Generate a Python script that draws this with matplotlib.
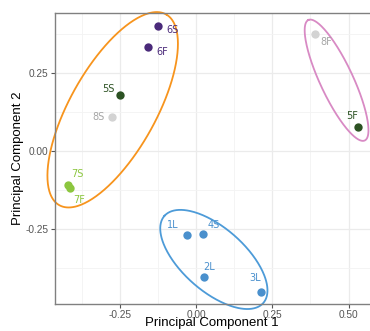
import numpy as np
import matplotlib
matplotlib.use("Agg")
import matplotlib.pyplot as plt

# sample scores on the first two principal components
samples = ["6S", "6F", "5S", "8S", "8F", "5F", "7S", "7F", "1L", "4S", "2L", "3L"]
pc1 = [-0.1235, -0.157, -0.249, -0.276, 0.389, 0.532, -0.418, -0.414, -0.028, 0.022, 0.026, 0.214]
pc2 = [0.399, 0.331, 0.179, 0.108, 0.375, 0.077, -0.109, -0.118, -0.268, -0.265, -0.403, -0.449]
cluster = ["A", "A", "A", "A", "B", "B", "A", "A", "C", "C", "C", "C"]

point_colors = {"6": "#4a2a7a", "5": "#2c5223", "8": "#d3d3d3", "7": "#8cc63f",
                "1": "#4a90cd", "2": "#4a90cd", "3": "#4a90cd", "4": "#4a90cd"}
label_colors = dict(point_colors, **{"8": "#a5a5a5"})
ellipse_colors = {"A": "#f7941d", "B": "#d88ac4", "C": "#4d9bd8"}
# (padding past the farthest point along the long axis, half width) in pixels
ellipse_pad = {"A": (14, 43), "B": (15, 16.5), "C": (9, 31.5)}

# label offsets (pixels) like ggrepel placed them
label_offsets = {"6S": (14, -4), "6F": (14, -5), "5S": (-12, 6), "8S": (-13, 0),
                 "8F": (12, -8), "5F": (-6, 11), "7S": (9, 11), "7F": (10, -12),
                 "1L": (-15, 10), "4S": (11, 9), "2L": (5, 10), "3L": (-6, 14)}

fig = plt.figure(figsize=(3.7, 3.31), dpi=100)
ax = fig.add_axes([54.5 / 370, 27 / 331, 315.5 / 370, 290.7 / 331])
ax.set_xlim(-0.4635, 0.570)
ax.set_ylim(-0.4885, 0.4397)

ax.set_xticks([-0.25, 0, 0.25, 0.5])
ax.set_xticklabels(["-0.25", "0.00", "0.25", "0.50"])
ax.set_yticks([-0.25, 0, 0.25])
ax.set_yticklabels(["-0.25", "0.00", "0.25"])
ax.set_xticks([-0.375, -0.125, 0.125, 0.375], minor=True)
ax.set_yticks([-0.375, -0.125, 0.125, 0.375], minor=True)
ax.grid(True, which="major", color="#ebebeb", lw=0.9)
ax.grid(True, which="minor", color="#f3f3f3", lw=0.6)
ax.set_axisbelow(True)
ax.tick_params(which="minor", length=0)
ax.tick_params(which="major", length=3, width=0.8, color="#555555",
               labelsize=7.3, labelcolor="#555555", pad=1.5)
for lab in ax.get_xticklabels() + ax.get_yticklabels():
    lab.set_family("Liberation Sans")
for s in ["left", "bottom", "top"]:
    ax.spines[s].set_color("#808080")
    ax.spines[s].set_linewidth(1.0)
ax.spines["right"].set_visible(False)

ax.set_xlabel("Principal Component 1", family="Liberation Sans", fontsize=9.5)
ax.set_ylabel("Principal Component 2", family="Liberation Sans", fontsize=9.5)
ax.xaxis.set_label_coords(0.5, -0.0464)
ax.yaxis.set_label_coords(-0.098, 0.5)

x = np.array(pc1)
y = np.array(pc2)
t = np.linspace(0, 2 * np.pi, 300)
for g, col in ellipse_colors.items():
    idx = [i for i, c in enumerate(cluster) if c == g]
    # work in pixel space so the ellipse looks right on screen
    P = ax.transData.transform(np.column_stack([x[idx], y[idx]]))
    c = P.mean(axis=0)
    w, V = np.linalg.eigh(np.cov(P.T))
    major = V[:, np.argmax(w)]
    ang = np.arctan2(major[1], major[0])
    a = np.abs((P - c) @ major).max() + ellipse_pad[g][0]
    b = ellipse_pad[g][1]
    ex = a * np.cos(t)
    ey = b * np.sin(t)
    pts = np.column_stack([c[0] + ex * np.cos(ang) - ey * np.sin(ang),
                           c[1] + ex * np.sin(ang) + ey * np.cos(ang)])
    d = ax.transData.inverted().transform(pts)
    ax.plot(d[:, 0], d[:, 1], color=col, lw=1.3, clip_on=False, zorder=2)

for i, name in enumerate(samples):
    ax.scatter(x[i], y[i], s=36, color=point_colors[name[0]], zorder=3, linewidths=0)
    ax.annotate(name, (x[i], y[i]), xytext=label_offsets[name], textcoords="offset pixels",
                ha="center", va="center", fontsize=7, color=label_colors[name[0]],
                family="DejaVu Sans", zorder=4)

fig.savefig("out.png", dpi=100)
